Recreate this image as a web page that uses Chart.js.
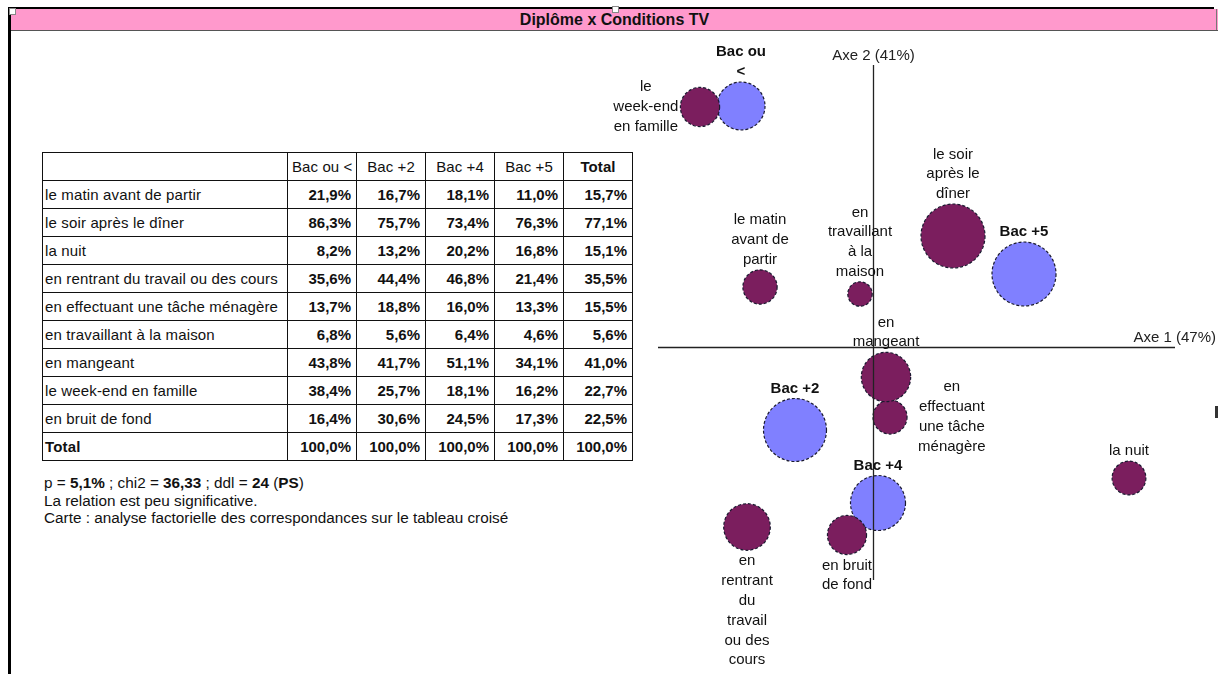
<!DOCTYPE html>
<html>
<head>
<meta charset="utf-8">
<script src="https://cdn.jsdelivr.net/npm/chart.js@4.4.1/dist/chart.umd.min.js"></script>
<style>
html,body{margin:0;padding:0;background:#fff;}
body{width:1218px;height:674px;overflow:hidden;position:relative;font-family:"Liberation Sans",Arial,sans-serif;color:#111;}
#frameTop{position:absolute;left:8px;top:7px;width:1206px;height:2px;background:#000;}
#frameLeft{position:absolute;left:8px;top:7px;width:3px;height:667px;background:#000;}
#titlebar{position:absolute;left:11px;top:9px;width:1207px;height:21px;background:#FF99CC;border-bottom:1px solid #555;text-align:center;font-weight:bold;font-size:16px;line-height:22px;color:#111;}
#titlebar .edge{position:absolute;right:1px;top:0;width:1px;height:21px;background:#777;}
.handle{position:absolute;width:5px;height:5px;background:#fff;border:1px solid #888;}
#rmark{position:absolute;left:1215px;top:406px;width:3px;height:12px;background:#333;}
#tbl{position:absolute;left:42px;top:152px;border-collapse:collapse;table-layout:fixed;width:590px;font-size:15px;}
#tbl td{border:1px solid #111;padding:0 4px;white-space:nowrap;overflow:hidden;height:27px;line-height:27px;}
#tbl td.lab{letter-spacing:0.15px;padding-left:2px;}
#tbl td.num{text-align:right;font-weight:bold;padding-right:5px;}
#tbl td.head{text-align:center;letter-spacing:0.1px;}
#tbl td.bold{font-weight:bold;}
#notes{position:absolute;left:44px;top:474px;font-size:15.3px;line-height:17.5px;color:#111;}
#c{position:absolute;left:600px;top:34px;}
</style>
</head>
<body>
<div id="frameTop"></div>
<div id="frameLeft"></div>
<div id="titlebar">Diplôme x Conditions TV<div class="edge"></div></div>
<div class="handle" style="left:9px;top:8px;"></div>
<div class="handle" style="left:612px;top:6px;"></div>
<div id="rmark"></div>
<table id="tbl">
<colgroup><col style="width:245px"><col style="width:69px"><col style="width:69px"><col style="width:69px"><col style="width:69px"><col style="width:69px"></colgroup>
<tbody id="tbody"></tbody>
</table>
<div id="notes">
<div>p = <b>5,1%</b> ; chi2 = <b>36,33</b> ; ddl = <b>24</b> (<b>PS</b>)</div>
<div>La relation est peu significative.</div>
<div>Carte : analyse factorielle des correspondances sur le tableau croisé</div>
</div>
<canvas id="c" width="618" height="640"></canvas>
<script>
// ---------- DATA ----------
const rowCats = ["le matin avant de partir","le soir après le dîner","la nuit","en rentrant du travail ou des cours","en effectuant une tâche ménagère","en travaillant à la maison","en mangeant","le week-end en famille","en bruit de fond"];
const colCats = ["Bac ou <","Bac +2","Bac +4","Bac +5"];
const totalLabel = "Total";

const pctBacOuMoins = [21.9,86.3,8.2,35.6,13.7,6.8,43.8,38.4,16.4];
const pctBac2       = [16.7,75.7,13.2,44.4,18.8,5.6,41.7,25.7,30.6];
const pctBac4       = [18.1,73.4,20.2,46.8,16.0,6.4,51.1,18.1,24.5];
const pctBac5       = [11.0,76.3,16.8,21.4,13.3,4.6,34.1,16.2,17.3];
const pctTotal      = [15.7,77.1,15.1,35.5,15.5,5.6,41.0,22.7,22.5];
const colTotals     = [100.0,100.0,100.0,100.0,100.0];

// factorial map coordinates (Axe 1, Axe 2)
const rowAxe1 = [-1.13, 0.80, 2.56, -1.26, 0.17, -0.13, 0.13, -1.73, -0.26];
const rowAxe2 = [ 0.60, 1.11,-1.31, -1.80,-0.70,  0.53,-0.30,  2.40, -1.88];
const colAxe1 = [-1.32,-0.78, 0.05, 1.51];
const colAxe2 = [ 2.41,-0.83,-1.56, 0.73];
const colMasse = [38.3, 74.2, 53.6, 77.1];
const rowMasse = pctTotal;

// wrapped labels on the map
const rowMapLabels = [["le matin","avant de","partir"],["le soir","après le","dîner"],["la nuit"],["en","rentrant","du","travail","ou des","cours"],["en","effectuant","une tâche","ménagère"],["en","travaillant","à la","maison"],["en","mangeant"],["le","week-end","en famille"],["en bruit","de fond"]];
const rowLabelSide = ["top","top","top","bottom","right","top","top","left","bottom"];
const colMapLabels = [["Bac ou","<"],["Bac +2"],["Bac +4"],["Bac +5"]];
const colLabelSide = ["top","top","top","top"];

const axisTitles = ["Axe 1 (47%)","Axe 2 (41%)"];
const axe1Extent = [-2.15, 3.02];
const axe2Extent = [-2.33, 2.82];
const mapXRange = [-2.73, 3.45];
const mapYRange = [-3.27, 3.13];

// ---------- TABLE ----------
const fmt = v => v.toFixed(1).replace('.', ',') + '%';
const tb = document.getElementById('tbody');
let html = '<tr><td class="lab"></td>' + colCats.map(c => '<td class="head">' + c.replace('<','&lt;') + '</td>').join('') + '<td class="head bold">' + totalLabel + '</td></tr>';
const cols = [pctBacOuMoins, pctBac2, pctBac4, pctBac5, pctTotal];
rowCats.forEach((r, i) => {
  html += '<tr><td class="lab">' + r + '</td>' + cols.map(a => '<td class="num">' + fmt(a[i]) + '</td>').join('') + '</tr>';
});
html += '<tr><td class="lab bold">' + totalLabel + '</td>' + colTotals.map(v => '<td class="num">' + fmt(v) + '</td>').join('') + '</tr>';
tb.innerHTML = html;

// ---------- MAP ----------
const radius = w => 4.9 + 3.087 * Math.sqrt(w);
const FONT = '"Liberation Sans", Arial, sans-serif';

const dashPlugin = {
  id: 'dash',
  beforeDatasetDraw(chart) { chart.ctx.save(); chart.ctx.setLineDash([3, 2]); },
  afterDatasetDraw(chart) { chart.ctx.restore(); }
};

const axesPlugin = {
  id: 'axesCross',
  afterDatasetsDraw(chart) {
    const ctx = chart.ctx, xs = chart.scales.x, ys = chart.scales.y;
    const x0 = Math.round(xs.getPixelForValue(0)) + 0.5;
    const y0 = Math.round(ys.getPixelForValue(0)) + 0.5;
    ctx.save();
    ctx.strokeStyle = '#222';
    ctx.lineWidth = 1.3;
    ctx.beginPath();
    ctx.moveTo(xs.getPixelForValue(axe1Extent[0]), y0);
    ctx.lineTo(xs.getPixelForValue(axe1Extent[1]), y0);
    ctx.moveTo(x0, ys.getPixelForValue(axe2Extent[1]));
    ctx.lineTo(x0, ys.getPixelForValue(axe2Extent[0]));
    ctx.stroke();
    ctx.fillStyle = '#222';
    ctx.font = '15px ' + FONT;
    ctx.textBaseline = 'middle';
    ctx.textAlign = 'right';
    ctx.fillText(axisTitles[0], chart.width - 2, y0 - 10);
    ctx.textAlign = 'center';
    ctx.fillText(axisTitles[1], x0, ys.getPixelForValue(axe2Extent[1]) - 9);
    ctx.restore();
  }
};

const labelsPlugin = {
  id: 'mapLabels',
  afterDatasetsDraw(chart) {
    const ctx = chart.ctx;
    const LH = 19.8;
    ctx.save();
    ctx.fillStyle = '#111';
    ctx.textBaseline = 'middle';
    ctx.textAlign = 'center';
    chart.data.datasets.forEach((ds, di) => {
      const meta = chart.getDatasetMeta(di);
      ctx.font = (ds.boldLabels ? 'bold ' : '') + '15px ' + FONT;
      meta.data.forEach((el, i) => {
        const lines = ds.mapLabels[i], side = ds.sides[i];
        const r = el.options.radius;
        const n = lines.length;
        let cx = el.x, firstY;
        if (side === 'top') {
          firstY = el.y - r - 10 - (n - 1) * LH;
        } else if (side === 'bottom') {
          firstY = el.y + r + 11;
        } else {
          const w = Math.max(...lines.map(l => ctx.measureText(l).width));
          firstY = el.y - (n - 1) * LH / 2;
          cx = side === 'left' ? el.x - r - 2 - w / 2 : el.x + r + 11 + w / 2;
        }
        lines.forEach((l, k) => ctx.fillText(l, cx, firstY + k * LH));
      });
    });
    ctx.restore();
  }
};

new Chart(document.getElementById('c').getContext('2d'), {
  type: 'bubble',
  data: {
    datasets: [
      {
        label: 'Conditions TV',
        data: rowCats.map((c, i) => ({ x: rowAxe1[i], y: rowAxe2[i], r: radius(rowMasse[i]) })),
        backgroundColor: '#7B1E5E',
        borderColor: '#1a1a30',
        borderWidth: 1.2,
        hoverRadius: 0,
        mapLabels: rowMapLabels,
        sides: rowLabelSide,
        boldLabels: false
      },
      {
        label: 'Diplôme',
        data: colCats.map((c, i) => ({ x: colAxe1[i], y: colAxe2[i], r: radius(colMasse[i]) })),
        backgroundColor: '#8080FF',
        borderColor: '#1a1a30',
        borderWidth: 1.2,
        hoverRadius: 0,
        mapLabels: colMapLabels,
        sides: colLabelSide,
        boldLabels: true
      }
    ]
  },
  options: {
    responsive: false,
    animation: false,
    events: [],
    layout: { padding: 0, autoPadding: false },
    scales: {
      x: { type: 'linear', min: mapXRange[0], max: mapXRange[1], display: false },
      y: { type: 'linear', min: mapYRange[0], max: mapYRange[1], display: false }
    },
    plugins: { legend: { display: false }, tooltip: { enabled: false }, title: { display: false } }
  },
  plugins: [dashPlugin, axesPlugin, labelsPlugin]
});
</script>
</body>
</html>
